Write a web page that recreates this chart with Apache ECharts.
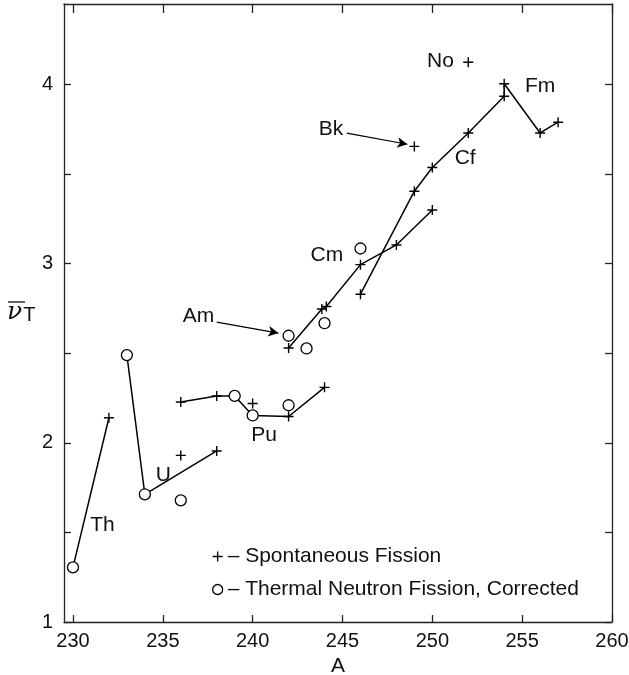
<!DOCTYPE html>
<html><head><meta charset="utf-8">
<script src="https://cdn.jsdelivr.net/npm/echarts@6/dist/echarts.min.js"></script>
<style>html,body{margin:0;padding:0;background:#fff}#c{width:629px;height:675px}</style>
</head><body><div id="c"></div>
<script>
// Axis ticks
const xTicks = [230, 235, 240, 245, 250, 255, 260];
const yTicks = [1, 1.5, 2, 2.5, 3, 3.5, 4];
const yLabels = [1, 2, 3, 4];

// + : spontaneous fission  [A, nu]
const spontaneous = [
  [232, 2.14], [236, 1.93], [238, 1.955],
  [236, 2.228], [238, 2.262], [240, 2.22], [242, 2.147], [244, 2.31],
  [242, 2.53], [243.85, 2.747], [244.1, 2.761], [246, 2.995], [248, 3.105], [250, 3.30],
  [246, 2.83], [249, 3.405], [250, 3.537], [252, 3.73], [254, 3.935], [254, 4.005],
  [256, 3.73], [257, 3.79],
  [249, 3.655], [252, 4.125]
];
// o : thermal neutron fission, corrected  [A, nu]
const thermal = [
  [230, 1.305], [233, 2.49], [234, 1.713], [236, 1.679],
  [239, 2.262], [240, 2.153], [242, 2.21],
  [242, 2.598], [243, 2.527], [244, 2.668], [246, 3.085]
];
// connecting lines
const thLine = [[230, 1.305], [232, 2.14]];
const uLine = [[233, 2.49], [234, 1.713], [238, 1.955]];
const puLine = [[236, 2.228], [238, 2.262], [239, 2.262], [240, 2.153], [242, 2.147], [244, 2.31]];
const amCmLine = [[242, 2.53], [243.85, 2.747], [244.1, 2.761], [246, 2.995], [248, 3.105], [250, 3.30]];
const cfFmLine = [[246, 2.83], [249, 3.405], [250, 3.537], [252, 3.73], [254, 3.935], [254, 4.005], [256, 3.73], [257, 3.79]];

// element annotations
const elementNames = ['Th', 'U', 'Pu', 'Am', 'Cm', 'Bk', 'Cf', 'No', 'Fm'];
const elementLabelPos = [[231.64, 1.54], [235.03, 1.822], [240.64, 2.045], [236.99, 2.706], [244.13, 3.05],
  [244.36, 3.752], [251.83, 3.589], [250.45, 4.128], [256.0, 3.99]];
const amArrow = [[238.0, 2.674], [241.43, 2.613]];
const bkArrow = [[245.24, 3.729], [248.61, 3.667]];

const legendNames = ['Spontaneous Fission', 'Thermal Neutron Fission, Corrected'];

const FONT = 'Liberation Sans, Arial, Helvetica, sans-serif';
const CROSS = 'path://M0,5L10,5M5,0L5,10';
const axisColor = '#222';

const chart = echarts.init(document.getElementById('c'), null, {renderer: 'canvas'});

function lineSeries(data) {
  return {type: 'line', data: data, symbol: 'none', showSymbol: false, silent: true, z: 2,
    lineStyle: {color: '#000', width: 1.5}, emphasis: {disabled: true}};
}

const baseX = {
  type: 'value', min: 229.5, max: 260, splitLine: {show: false},
  axisLine: {show: true, onZero: false, lineStyle: {color: axisColor, width: 1.3}},
  axisTick: {show: true, inside: true, length: 7, customValues: xTicks, lineStyle: {color: axisColor, width: 1.3}}
};
const baseY = {
  type: 'value', min: 1, max: 4.45, splitLine: {show: false},
  axisLine: {show: true, onZero: false, lineStyle: {color: axisColor, width: 1.3}},
  axisTick: {show: true, inside: true, length: 7, customValues: yTicks, lineStyle: {color: axisColor, width: 1.3}}
};

chart.setOption({
  animation: false,
  textStyle: {fontFamily: FONT},
  grid: {left: 64, right: 17, top: 4, bottom: 53, containLabel: false, outerBoundsMode: 'none'},
  xAxis: [
    Object.assign({}, baseX, {position: 'bottom',
      axisLabel: {customValues: xTicks, margin: 9, fontSize: 20, color: '#111', fontFamily: FONT},
      name: 'A', nameLocation: 'middle', nameGap: 34,
      nameTextStyle: {fontSize: 21, color: '#111', fontFamily: FONT}}),
    Object.assign({}, baseX, {position: 'top', axisLabel: {show: false},
      axisTick: Object.assign({}, baseX.axisTick, {length: 9})})
  ],
  yAxis: [
    Object.assign({}, baseY, {position: 'left',
      axisLabel: {customValues: yLabels, margin: 11, fontSize: 20, color: '#111', fontFamily: FONT}}),
    Object.assign({}, baseY, {position: 'right', axisLabel: {show: false}})
  ],
  legend: {
    orient: 'vertical', left: 207, top: 541, itemGap: 12, itemWidth: 10, itemHeight: 10,
    selectedMode: false, formatter: '\u2013 {name}',
    textStyle: {fontSize: 21, color: '#111', fontFamily: FONT},
    data: [
      {name: legendNames[0], icon: CROSS, itemStyle: {color: 'rgba(0,0,0,0)', borderColor: '#000', borderWidth: 1.3, opacity: 1}},
      {name: legendNames[1], icon: 'circle', itemStyle: {color: '#fff', borderColor: '#000', borderWidth: 1.3, opacity: 1}}
    ]
  },
  graphic: [
    {type: 'text', left: 7, top: 300, silent: true,
      style: {
        text: '{nu|\u03BD}{t|T}',
        rich: {
          nu: {fontFamily: 'DejaVu Serif', fontStyle: 'italic', fontSize: 25, fill: '#111'},
          t: {fontFamily: FONT, fontSize: 20, fill: '#111', padding: [6, 0, 0, 1]}
        }
      }},
    {type: 'line', silent: true, shape: {x1: 8, y1: 302, x2: 25, y2: 302}, style: {stroke: '#111', lineWidth: 1.3}}
  ],
  series: [
    lineSeries(thLine), lineSeries(uLine), lineSeries(puLine), lineSeries(amCmLine), lineSeries(cfFmLine),
    {type: 'line', name: 'arrows', data: [], silent: true,
      markLine: {silent: true, symbol: ['none', 'arrow'], symbolSize: [8, 10], label: {show: false},
        lineStyle: {color: '#000', width: 1.2, type: 'solid'}, emphasis: {disabled: true},
        data: [
          [{coord: amArrow[0]}, {coord: amArrow[1]}],
          [{coord: bkArrow[0]}, {coord: bkArrow[1]}]
        ]}},
    {type: 'scatter', name: legendNames[0], data: spontaneous, symbol: CROSS, symbolSize: 10, z: 3,
      itemStyle: {color: 'rgba(0,0,0,0)', borderColor: '#000', borderWidth: 1.4, opacity: 1}, silent: true},
    {type: 'scatter', name: legendNames[1], data: thermal, symbol: 'circle', symbolSize: 11, z: 4,
      itemStyle: {color: '#fff', borderColor: '#000', borderWidth: 1.3, opacity: 1}, silent: true},
    {type: 'scatter', name: 'elements', symbolSize: 0, silent: true, z: 5,
      itemStyle: {opacity: 1},
      data: elementNames.map((n, i) => ({name: n, value: elementLabelPos[i]})),
      label: {show: true, position: 'inside', formatter: p => p.name, fontSize: 21, color: '#111', fontFamily: FONT}}
  ]
});
</script></body></html>
